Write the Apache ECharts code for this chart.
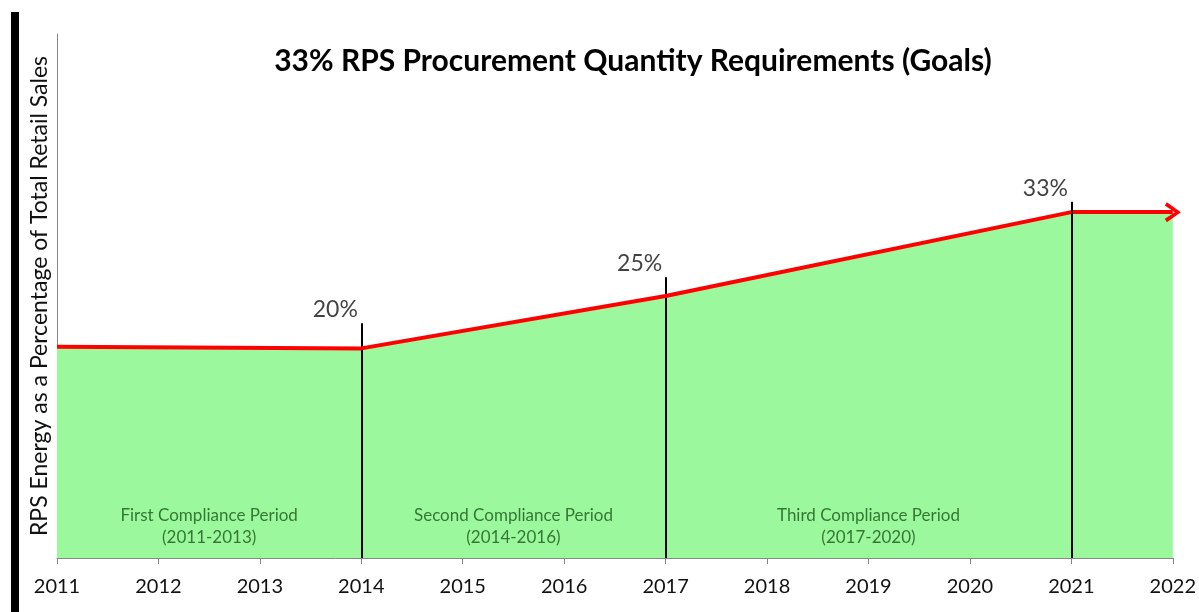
<!DOCTYPE html>
<html>
<head>
<meta charset="utf-8">
<script src="https://cdn.jsdelivr.net/npm/echarts@6/dist/echarts.min.js"></script>
<style>html,body{margin:0;padding:0;background:#fff}#c{width:1199px;height:612px}</style>
</head>
<body>
<div id="c"></div>
<script>
// Data
var years = [2011, 2014, 2017, 2021, 2022];
var goals = [20.15, 20, 25, 33, 33];
var markerYears = [2014, 2017, 2021];
var markerLabels = ['20%', '25%', '33%'];
var markerTops = [22.4, 26.8, 34.0];
var periodCenters = [2012.5, 2015.5, 2019];
var periodNames = ['First Compliance Period', 'Second Compliance Period', 'Third Compliance Period'];
var periodRanges = ['(2011-2013)', '(2014-2016)', '(2017-2020)'];
var xTicks = [2011, 2012, 2013, 2014, 2015, 2016, 2017, 2018, 2019, 2020, 2021, 2022];

var FONT = 'Lato, "Open Sans", sans-serif';
var chart = echarts.init(document.getElementById('c'));

var lineData = [];
for (var i = 0; i < 4; i++) lineData.push([years[i], goals[i]]);
var areaData = [];
for (var j = 0; j < years.length; j++) areaData.push([years[j], goals[j]]);

var markerLines = markerYears.map(function (y, k) {
  return [{coord: [y, 0]}, {coord: [y, markerTops[k]]}];
});

// open chevron pointing "up" (ECharts rotates it along the line direction)
var chevron = 'path://M0,10 L6,0 L12,10 L10,11.5 L6,4.2 L2,11.5 Z';

chart.setOption({
  animation: false,
  title: {
    text: '33% RPS Procurement Quantity Requirements (Goals)',
    left: 628, top: 41, textAlign: 'center',
    textStyle: {fontFamily: FONT, fontWeight: 'bold', fontSize: 30, color: '#000'}
  },
  graphic: [{type: 'rect', shape: {x: 11, y: 12, width: 8, height: 600}, style: {fill: '#000'}}],
  grid: {left: 57, right: 25, top: 34, bottom: 54},
  xAxis: {
    type: 'value', min: 2011, max: 2022, interval: 1,
    axisLine: {lineStyle: {color: '#888', width: 1}},
    axisTick: {show: true, length: 6, inside: false, lineStyle: {color: '#888'}},
    axisLabel: {
      fontFamily: FONT, fontSize: 20, color: '#111', margin: 19,
      formatter: function (v) { return xTicks.indexOf(v) >= 0 ? String(v) : ''; }
    },
    splitLine: {show: false}
  },
  yAxis: {
    type: 'value', min: 0, max: 50,
    name: 'RPS Energy as a Percentage of Total Retail Sales',
    nameLocation: 'middle', nameGap: 6, nameRotate: 90,
    nameTextStyle: {fontFamily: FONT, fontSize: 23, color: '#111', verticalAlign: 'bottom'},
    axisLine: {show: true, lineStyle: {color: '#888', width: 1}},
    axisTick: {show: false}, axisLabel: {show: false}, splitLine: {show: false}
  },
  series: [
    {
      type: 'line', data: areaData, symbol: 'none', z: 1,
      lineStyle: {width: 0, opacity: 0},
      areaStyle: {color: '#9cf89c', opacity: 1}
    },
    {
      type: 'line', data: lineData, symbol: 'none', z: 5,
      lineStyle: {color: '#ff0000', width: 4},
      markLine: {
        silent: true, symbol: ['none', chevron], symbolSize: [20, 16],
        lineStyle: {color: '#ff0000', width: 4, type: 'solid'},
        itemStyle: {color: '#ff0000'},
        label: {show: false},
        data: [[{coord: [years[3], goals[3]]}, {coord: [years[4], goals[4]]}]]
      }
    },
    {
      type: 'line', data: lineData, symbol: 'none', z: 7,
      lineStyle: {width: 0, opacity: 0},
      markLine: {
        silent: true, symbol: 'none',
        lineStyle: {color: '#000', width: 2, type: 'solid', opacity: 1},
        label: {show: false},
        data: markerLines
      }
    },
    {
      type: 'scatter', symbolSize: 0, z: 6,
      data: markerYears.map(function (y, k) { return [y, markerTops[k]]; }),
      label: {
        show: true, position: 'top', distance: 2,
        formatter: function (p) { return markerLabels[p.dataIndex]; },
        offset: [-26, 0],
        fontFamily: FONT, fontSize: 23, color: '#111'
      }
    },
    {
      type: 'scatter', symbolSize: 0, z: 6,
      data: periodCenters.map(function (c) { return [c, 3.05]; }),
      label: {
        show: true, position: 'inside',
        formatter: function (p) { return periodNames[p.dataIndex] + '\n' + periodRanges[p.dataIndex]; },
        fontFamily: FONT, fontSize: 17, lineHeight: 22, color: '#1a561a', align: 'center'
      }
    }
  ]
});
</script>
</body>
</html>
